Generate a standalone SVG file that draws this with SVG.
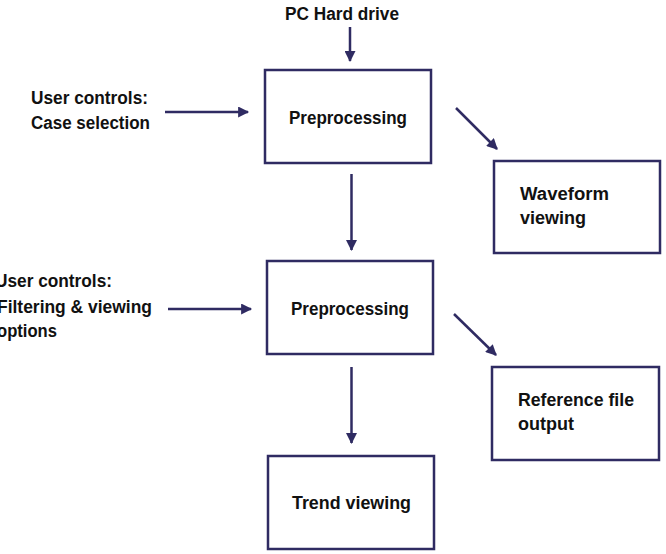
<svg xmlns="http://www.w3.org/2000/svg" width="666" height="554" viewBox="0 0 666 554">
<defs>
<style>
.box{fill:#fff;stroke:#2f2b62;stroke-width:2.5}
.t{font-family:"Liberation Sans",Arial,sans-serif;font-weight:bold;font-size:18px;fill:#111}
.c line{stroke:#2f2b62;stroke-width:2.5}
</style>
<marker id="ah" viewBox="0 0 10 10" refX="9" refY="5" markerWidth="4.8" markerHeight="4.4" orient="auto" markerUnits="strokeWidth">
<path d="M0,0 L10,5 L0,10 z" fill="#2f2b62"/>
</marker>
</defs>
<rect width="666" height="554" fill="#fff"/>
<g id="pc-hard-drive"><text class="t" x="285" y="20" textLength="114" lengthAdjust="spacingAndGlyphs">PC Hard drive</text></g>
<g id="user-controls-1"><text class="t" x="31" y="104" textLength="117" lengthAdjust="spacingAndGlyphs">User controls:</text><text class="t" x="31" y="129" textLength="119" lengthAdjust="spacingAndGlyphs">Case selection</text></g>
<g id="preprocessing-1"><rect class="box" x="265" y="70" width="166" height="93"/><text class="t" x="289" y="124" textLength="118" lengthAdjust="spacingAndGlyphs">Preprocessing</text></g>
<g id="waveform-viewing"><rect class="box" x="494" y="161" width="166" height="92"/><text class="t" x="520" y="200" textLength="89" lengthAdjust="spacingAndGlyphs">Waveform</text><text class="t" x="520" y="224" textLength="66" lengthAdjust="spacingAndGlyphs">viewing</text></g>
<g id="user-controls-2"><text class="t" x="-5" y="287" textLength="117" lengthAdjust="spacingAndGlyphs">User controls:</text><text class="t" x="-3" y="313" textLength="155" lengthAdjust="spacingAndGlyphs">Filtering &amp; viewing</text><text class="t" x="-3" y="337" textLength="60" lengthAdjust="spacingAndGlyphs">options</text></g>
<g id="preprocessing-2"><rect class="box" x="267" y="261" width="166" height="93"/><text class="t" x="291" y="315" textLength="118" lengthAdjust="spacingAndGlyphs">Preprocessing</text></g>
<g id="reference-file-output"><rect class="box" x="492" y="367" width="167" height="93"/><text class="t" x="518" y="406" textLength="116" lengthAdjust="spacingAndGlyphs">Reference file</text><text class="t" x="518" y="430" textLength="56" lengthAdjust="spacingAndGlyphs">output</text></g>
<g id="trend-viewing"><rect class="box" x="268" y="456" width="166" height="93"/><text class="t" x="292" y="509" textLength="119" lengthAdjust="spacingAndGlyphs">Trend viewing</text></g>
<g id="connectors" class="c">
<line x1="350" y1="27" x2="350" y2="61" marker-end="url(#ah)"/>
<line x1="165" y1="112" x2="248" y2="112" marker-end="url(#ah)"/>
<line x1="456" y1="108" x2="497" y2="149" marker-end="url(#ah)"/>
<line x1="351.5" y1="174" x2="351.5" y2="250" marker-end="url(#ah)"/>
<line x1="168" y1="309" x2="251" y2="309" marker-end="url(#ah)"/>
<line x1="454" y1="314" x2="496" y2="355" marker-end="url(#ah)"/>
<line x1="351.5" y1="367" x2="351.5" y2="443" marker-end="url(#ah)"/>
</g>
</svg>
